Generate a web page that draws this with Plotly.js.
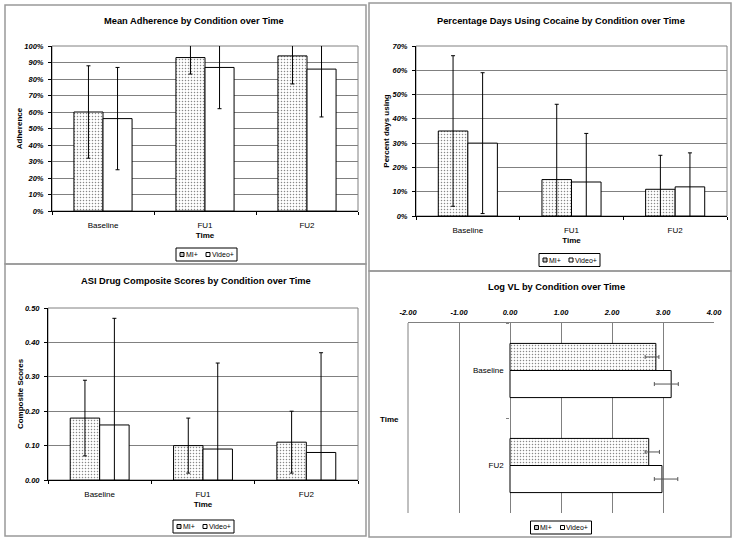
<!DOCTYPE html>
<html>
<head>
<meta charset="utf-8">
<script src="https://cdn.plot.ly/plotly-3.0.1.min.js"></script>
<style>
  html, body { margin: 0; padding: 0; background: #fff; }
  #chart { width: 736px; height: 543px; }
</style>
</head>
<body>
<div id="chart"></div>
<script>
// Four Excel-style panels: adherence, cocaine use, ASI scores, log viral load

const conditions = ['MI+', 'Video+'];
const timePoints = ['Baseline', 'FU1', 'FU2'];

const adherenceMI = [60, 93, 94];
const adherenceMIErr = [28, 10, 17];
const adherenceVideo = [56, 87, 86];
const adherenceVideoErr = [31, 25, 29];

const cocaineMI = [35, 15, 11];
const cocaineMIErr = [31, 31, 14];
const cocaineVideo = [30, 14, 12];
const cocaineVideoErr = [29, 20, 14];

const asiMI = [0.18, 0.10, 0.11];
const asiMIErr = [0.11, 0.08, 0.09];
const asiVideo = [0.16, 0.09, 0.08];
const asiVideoErr = [0.31, 0.25, 0.29];

const vlTimePoints = ['Baseline', 'FU2'];
const vlMI = [2.86, 2.72];
const vlMIErrPlus = [0.06, 0.21];
const vlMIErrMinus = [0.21, 0.07];
const vlVideo = [3.16, 2.98];
const vlVideoErrPlus = [0.14, 0.31];
const vlVideoErrMinus = [0.33, 0.15];
const vlTicks = [-2, -1, 0, 1, 2, 3, 4];

const W = 736, H = 543;
const FONT = 'Liberation Sans, Arial, sans-serif';
const GRID = '#808080';

// pixel -> paper helpers
const px = x => x / W;
const py = y => 1 - y / H;

const miMarker = {
    color: '#fff',
    line: { color: '#000', width: 1 },
    pattern: { shape: '.', fgcolor: '#888', bgcolor: '#fff', size: 3, solidity: 0.2 }
};
const videoMarker = {
    color: '#fff',
    line: { color: '#000', width: 1 }
};

function barTrace(name, x, y, err, xa, ya, marker) {
    return {
        type: 'bar', name: name, x: x, y: y, xaxis: xa, yaxis: ya,
        showlegend: false, marker: marker,
        error_y: { type: 'data', array: err, visible: true, color: '#000', thickness: 1, width: 2 }
    };
}

function vlTrace(name, x, plus, minus, marker) {
    return {
        type: 'bar', orientation: 'h', name: name, x: x, y: vlTimePoints,
        xaxis: 'x4', yaxis: 'y4', showlegend: false, marker: marker,
        error_x: { type: 'data', symmetric: false, array: plus, arrayminus: minus,
                   visible: true, color: '#555', thickness: 1, width: 2 }
    };
}

const traces = [
    barTrace(conditions[0], timePoints, adherenceMI, adherenceMIErr, 'x', 'y', miMarker),
    barTrace(conditions[1], timePoints, adherenceVideo, adherenceVideoErr, 'x', 'y', videoMarker),
    barTrace(conditions[0], timePoints, cocaineMI, cocaineMIErr, 'x2', 'y2', miMarker),
    barTrace(conditions[1], timePoints, cocaineVideo, cocaineVideoErr, 'x2', 'y2', videoMarker),
    barTrace(conditions[0], timePoints, asiMI, asiMIErr, 'x3', 'y3', miMarker),
    barTrace(conditions[1], timePoints, asiVideo, asiVideoErr, 'x3', 'y3', videoMarker),
    vlTrace(conditions[0], vlMI, vlMIErrPlus, vlMIErrMinus, miMarker),
    vlTrace(conditions[1], vlVideo, vlVideoErrPlus, vlVideoErrMinus, videoMarker)
];

const valueTickFont = { family: FONT, size: 7.5, color: '#000', weight: 'bold', style: 'italic' };
const catTickFont = { family: FONT, size: 8, color: '#000' };
const axisTitleFont = { family: FONT, size: 8, color: '#000', weight: 'bold' };

function catAxis(x0, x1, anchor) {
    return {
        domain: [px(x0), px(x1)], anchor: anchor, type: 'category',
        showline: true, linecolor: '#000', linewidth: 1,
        ticks: 'outside', tickson: 'boundaries', ticklen: 3, tickcolor: '#000',
        ticklabelstandoff: 6,
        tickfont: catTickFont, showgrid: false, fixedrange: true,
        title: { text: 'Time', font: axisTitleFont, standoff: 3 }
    };
}

function valueAxis(y0, y1, anchor, title, extra) {
    return Object.assign({
        domain: [py(y1), py(y0)], anchor: anchor,
        showline: true, linecolor: '#000', linewidth: 1,
        ticks: 'outside', ticklen: 3, tickcolor: '#000', ticklabelstandoff: 3,
        showgrid: true, gridcolor: GRID, gridwidth: 1, zeroline: false,
        tickfont: valueTickFont, fixedrange: true,
        title: { text: title, font: axisTitleFont, standoff: 0 }
    }, extra);
}

function panelBorder(x0, y0, x1, y1) {
    return {
        type: 'rect', xref: 'paper', yref: 'paper',
        x0: px(x0), x1: px(x1), y0: py(y1), y1: py(y0),
        line: { color: '#999', width: 1.5 }
    };
}

function plotFrame(xa, ya) {
    return {
        type: 'rect', xref: xa + ' domain', yref: ya + ' domain',
        x0: 0, x1: 1, y0: 0, y1: 1, layer: 'below',
        line: { color: GRID, width: 1 }
    };
}

function title(text, cx, cy) {
    return {
        text: text, x: px(cx), y: py(cy), xref: 'paper', yref: 'paper',
        xanchor: 'center', yanchor: 'middle', showarrow: false,
        font: { family: FONT, size: 9.3, color: '#000', weight: 'bold' }
    };
}

// Excel-style compact legend: framed box, two small keys and labels
const legendShapes = [];
const legendNotes = [];
function addLegend(left, top) {
    const w = 61, h = 13, cy = top + h / 2;
    legendShapes.push({
        type: 'rect', xref: 'paper', yref: 'paper',
        x0: px(left), x1: px(left + w), y0: py(top + h), y1: py(top),
        line: { color: '#000', width: 1 }, fillcolor: '#fff'
    });
    const keyX = [left + 4, left + 30];
    const keyFill = ['#c4c4c4', '#fff'];
    conditions.forEach((name, i) => {
        legendShapes.push({
            type: 'rect', xref: 'paper', yref: 'paper',
            x0: px(keyX[i]), x1: px(keyX[i] + 4), y0: py(cy + 2), y1: py(cy - 2),
            line: { color: '#000', width: 1 }, fillcolor: keyFill[i]
        });
        legendNotes.push({
            text: name, x: px(keyX[i] + 4.5), y: py(cy), xref: 'paper', yref: 'paper',
            xanchor: 'left', yanchor: 'middle', showarrow: false, borderpad: 0,
            font: { family: FONT, size: 7, color: '#000' }
        });
    });
}
addLegend(176, 248);
addLegend(539, 253.5);
addLegend(173, 520);
addLegend(530.5, 521);

const layout = {
    width: W, height: H,
    margin: { l: 0, r: 0, t: 0, b: 0 },
    paper_bgcolor: '#fff', plot_bgcolor: '#fff',
    font: { family: FONT, color: '#000' },
    showlegend: false,
    barmode: 'group', bargap: 0.43, bargroupgap: 0,

    xaxis: catAxis(52, 358, 'y'),
    yaxis: valueAxis(46, 211, 'x', 'Adherence', { range: [0, 100], dtick: 10, ticksuffix: '%' }),

    xaxis2: catAxis(416, 727, 'y2'),
    yaxis2: valueAxis(46, 216, 'x2', 'Percent days using', { range: [0, 70], dtick: 10, ticksuffix: '%' }),

    xaxis3: catAxis(48, 358, 'y3'),
    yaxis3: valueAxis(308, 480, 'x3', 'Composite Scores', { range: [0, 0.5], dtick: 0.1, tickformat: '.2f' }),

    xaxis4: {
        domain: [px(408), px(714)], anchor: 'y4', side: 'top',
        range: [-2, 4], tickvals: vlTicks, ticktext: vlTicks.map(v => v.toFixed(2)),
        showline: true, linecolor: GRID, ticks: '', ticklabelstandoff: 4,
        showgrid: true, gridcolor: GRID, gridwidth: 1, zeroline: false,
        tickfont: valueTickFont, fixedrange: true
    },
    yaxis4: {
        domain: [py(513), py(323)], anchor: 'free', position: 508.7 / W,
        type: 'category', autorange: 'reversed',
        showline: false, ticks: 'outside', tickson: 'boundaries', ticklen: 3, tickcolor: GRID,
        ticklabelstandoff: 5,
        tickfont: catTickFont, showgrid: false, fixedrange: true
    },

    shapes: [
        panelBorder(5, 5, 366, 264),
        panelBorder(369, 3, 731, 271),
        panelBorder(5, 264, 366, 536),
        panelBorder(369, 271, 731, 537),
        plotFrame('x', 'y'),
        plotFrame('x2', 'y2'),
        plotFrame('x3', 'y3'),
        {
            type: 'line', xref: 'x4 domain', yref: 'y4 domain',
            x0: 0, x1: 0, y0: 0, y1: 1, layer: 'below',
            line: { color: GRID, width: 1 }
        }
    ].concat(legendShapes),

    annotations: [
        title('Mean Adherence by Condition over Time', 193.5, 21),
        title('Percentage Days Using Cocaine by Condition over Time', 561, 21),
        title('ASI Drug Composite Scores by Condition over Time', 196, 281),
        title('Log VL by Condition over Time', 556.5, 287),
        {
            text: 'Time', x: px(389), y: py(419), xref: 'paper', yref: 'paper',
            xanchor: 'center', yanchor: 'middle', showarrow: false, font: axisTitleFont
        }
    ].concat(legendNotes)
};

Plotly.newPlot('chart', traces, layout, { staticPlot: true, displayModeBar: false });
</script>
</body>
</html>
